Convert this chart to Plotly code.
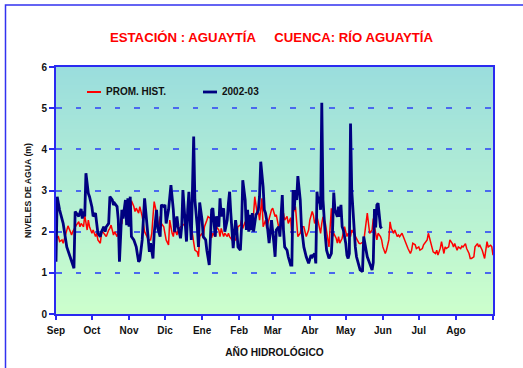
import plotly.graph_objects as go

# ---------------- data ----------------
MESES = ["Sep", "Oct", "Nov", "Dic", "Ene", "Feb", "Mar", "Abr", "May", "Jun", "Jul", "Ago"]
DIAS_MES = [30, 31, 30, 31, 31, 28, 31, 30, 31, 30, 31, 31]

# Historical mean water level (day of hydrological year, metres)
PROM_DIA = [0, 2, 3, 5, 6, 7, 9, 10, 12, 13, 14, 16, 17, 19, 20, 21, 23, 24, 26, 27, 28, 30, 31, 33, 34,
            35, 37, 38, 39, 41, 42, 44, 45, 46, 48, 49, 51, 52, 53, 55, 56, 58, 59, 60, 62, 63, 65, 66, 67,
            69, 70, 72, 73, 74, 76, 77, 79, 80, 81, 82, 84, 85, 86, 87, 88, 90, 91, 92, 94, 95, 97, 98, 99,
            101, 102, 104, 105, 106, 108, 109, 111, 112, 113, 115, 116, 118, 119, 120, 122, 123, 124, 126,
            127, 129, 130, 131, 133, 134, 136, 137, 138, 140, 141, 143, 144, 145, 147, 148, 150, 151, 152,
            154, 155, 156, 158, 159, 161, 162, 163, 165, 166, 168, 169, 170, 172, 173, 175, 176, 177, 179,
            180, 181, 183, 184, 186, 187, 189, 190, 191, 193, 194, 196, 197, 198, 200, 201, 202, 204, 205,
            207, 208, 209, 211, 212, 214, 215, 216, 218, 219, 221, 222, 223, 225, 226, 228, 229, 230, 231,
            232, 234, 235, 236, 237, 239, 240, 241, 243, 244, 246, 247, 248, 250, 251, 253, 254, 255, 257,
            258, 260, 261, 262, 264, 265, 267, 268, 269, 271, 272, 273, 275, 276, 278, 279, 280, 282, 283,
            285, 286, 287, 289, 290, 292, 293, 294, 296, 297, 298, 300, 301, 303, 304, 306, 307, 308, 310,
            311, 313, 314, 315, 317, 318, 319, 321, 322, 324, 325, 326, 328, 329, 331, 332, 333, 335, 336,
            338, 339, 340, 342, 343, 345, 346, 347, 349, 350, 352, 353, 354, 356, 357, 358, 360, 361, 363,
            364, 365]
PROM_NIVEL = [1.84, 1.88, 1.76, 1.80, 1.72, 1.84, 2.08, 2.14, 2.00, 1.92, 2.00, 2.12, 2.16, 2.24, 2.12,
              2.20, 2.12, 2.40, 2.04, 2.28, 2.12, 1.96, 2.04, 1.88, 1.96, 1.80, 1.72, 1.96, 2.00, 1.92,
              1.88, 2.04, 2.08, 2.16, 1.92, 2.00, 1.88, 2.00, 2.12, 2.20, 2.53, 2.40, 2.32, 2.45, 2.30,
              2.75, 2.61, 2.49, 2.57, 2.45, 2.61, 2.37, 2.20, 2.00, 1.88, 1.80, 1.80, 1.96, 2.37, 2.73,
              2.45, 2.20, 2.12, 2.37, 2.20, 2.12, 1.96, 1.80, 1.68, 2.28, 1.96, 1.88, 2.08, 1.92, 2.04,
              2.12, 2.12, 2.16, 2.20, 2.40, 2.37, 2.28, 2.12, 1.80, 1.55, 1.51, 1.39, 1.88, 1.96, 1.84,
              2.12, 2.28, 2.37, 2.32, 1.85, 1.96, 1.88, 2.12, 2.04, 1.88, 2.08, 1.88, 1.96, 1.88, 1.96,
              1.88, 1.80, 1.76, 1.80, 1.92, 2.12, 2.16, 2.28, 2.08, 2.24, 2.12, 2.12, 2.37, 2.20, 2.41,
              2.85, 2.45, 2.49, 2.28, 2.81, 2.12, 2.28, 2.08, 2.20, 2.45, 2.53, 2.57, 2.37, 2.41, 2.08,
              1.96, 2.37, 2.45, 2.28, 2.37, 2.20, 2.34, 1.88, 2.45, 2.61, 2.20, 1.88, 1.96, 2.12, 2.12,
              1.96, 1.88, 2.04, 2.28, 2.49, 2.40, 2.20, 2.36, 2.24, 1.96, 2.20, 2.36, 2.20, 1.96, 1.63,
              2.12, 2.57, 1.88, 1.96, 1.84, 1.72, 1.88, 1.72, 1.84, 1.96, 2.12, 1.88, 1.96, 1.88, 2.04,
              2.00, 1.88, 1.80, 1.72, 1.71, 1.72, 1.76, 2.04, 2.45, 2.20, 1.96, 2.04, 2.32, 1.96, 1.80,
              1.96, 1.88, 1.80, 1.63, 1.47, 1.55, 1.80, 2.24, 2.08, 1.96, 2.04, 1.88, 1.92, 1.88, 1.96,
              1.88, 1.72, 1.68, 1.59, 1.47, 1.55, 1.72, 1.68, 1.59, 1.63, 1.55, 1.59, 1.68, 1.72, 1.80,
              1.96, 1.72, 1.63, 1.51, 1.47, 1.55, 1.43, 1.60, 1.76, 1.47, 1.63, 1.59, 1.63, 1.80, 1.71,
              1.63, 1.71, 1.55, 1.63, 1.59, 1.65, 1.63, 1.71, 1.59, 1.47, 1.35, 1.35, 1.39, 1.63, 1.71,
              1.63, 1.67, 1.55, 1.47, 1.35, 1.76, 1.63, 1.67, 1.63, 1.43]

# Water level of the 2002-03 hydrological year (metres)
AGUA_DIA = [0, 1, 3, 6, 9, 12, 15, 16, 19, 21, 22, 23, 24, 25, 27, 28, 30, 31, 33, 34, 35, 37, 38, 40, 41,
            42, 44, 45, 47, 48, 49, 51, 52, 53, 54, 55, 56, 58, 59, 60, 61, 62, 63, 65, 67, 69, 70, 72, 74,
            75, 76, 78, 79, 81, 82, 84, 85, 87, 88, 90, 91, 92, 94, 95, 96, 98, 99, 101, 102, 104, 105, 106,
            107, 109, 110, 111, 112, 113, 115, 116, 118, 119, 120, 122, 123, 125, 126, 128, 130, 131, 133,
            134, 136, 137, 138, 140, 141, 143, 144, 145, 146, 148, 149, 150, 151, 152, 154, 155, 156, 158,
            159, 160, 161, 162, 163, 164, 165, 167, 168, 169, 170, 171, 173, 174, 175, 176, 178, 179, 180,
            182, 183, 184, 186, 187, 189, 190, 191, 193, 194, 196, 197, 198, 199, 200, 201, 202, 204, 205,
            207, 209, 211, 213, 214, 216, 217, 218, 219, 220, 221, 222, 223, 225, 226, 228, 230, 231, 232,
            233, 235, 236, 237, 238, 239, 240, 242, 243, 244, 245, 246, 247, 249, 250, 251, 253, 254, 256,
            257, 259, 260, 262, 264, 265, 266, 267, 268, 269, 270, 271, 272]
AGUA_NIVEL = [1.27, 2.85, 2.53, 2.20, 1.63, 1.39, 1.11, 2.49, 2.37, 2.55, 2.32, 2.49, 2.37, 3.42, 2.93,
              2.85, 2.60, 2.37, 2.45, 2.20, 1.96, 1.88, 2.00, 2.12, 2.00, 2.12, 2.20, 2.85, 2.77, 2.65,
              2.69, 2.61, 2.30, 1.27, 1.96, 2.53, 2.32, 2.77, 2.16, 2.81, 2.12, 2.85, 1.88, 1.80, 1.63,
              1.27, 1.31, 1.80, 2.81, 2.45, 2.04, 1.51, 1.72, 1.35, 1.96, 2.53, 2.08, 1.88, 2.65, 2.61,
              2.65, 2.20, 2.53, 2.77, 3.13, 2.53, 2.00, 2.37, 2.12, 1.84, 2.12, 3.01, 2.61, 1.76, 2.53,
              2.97, 2.28, 1.80, 4.31, 2.77, 2.12, 1.63, 2.71, 2.28, 1.88, 1.80, 1.55, 1.19, 2.53, 2.57,
              1.88, 2.37, 2.12, 2.81, 2.37, 2.57, 2.00, 2.28, 2.69, 2.97, 2.45, 1.60, 1.96, 2.28, 2.04,
              1.63, 1.55, 2.12, 3.25, 2.77, 2.04, 2.53, 2.00, 2.41, 2.04, 2.45, 2.00, 2.41, 2.45, 2.53,
              2.85, 3.70, 3.09, 2.53, 2.45, 2.28, 1.72, 1.96, 2.28, 1.72, 1.39, 2.04, 2.12, 1.88, 2.89,
              2.04, 1.63, 1.55, 1.39, 1.19, 1.19, 3.01, 2.53, 3.01, 2.77, 3.35, 2.77, 2.12, 1.63, 1.39,
              1.23, 1.43, 1.39, 1.47, 1.23, 2.97, 2.69, 2.85, 2.53, 5.13, 2.77, 1.88, 1.55, 1.35, 1.47,
              2.04, 2.95, 2.53, 2.36, 2.61, 2.36, 2.65, 2.12, 2.04, 1.72, 1.43, 1.35, 1.47, 4.63, 3.01,
              2.04, 1.63, 1.39, 1.15, 1.07, 1.03, 1.88, 1.55, 1.39, 1.23, 1.07, 1.25, 2.55, 2.10, 2.65,
              2.69, 2.28, 2.12, 2.08]

# ---------------- layout constants ----------------
W, H = 523, 368
L, R, T, B = 56, 30, 67, 54
PW, PH = W - L - R, H - T - B
FONT = "Liberation Sans, Arial, sans-serif"
AXIS_BLUE = "#2a2af0"
GRID_BLUE = "#4a68ee"
Y_MAX = 6


def px_x(px):
    return (px - L) / PW


def px_y(py):
    return (H - B - py) / PH


# month tick positions (start of each month, plus end of year)
tick_pos = [0]
for d in DIAS_MES:
    tick_pos.append(tick_pos[-1] + d)
tick_txt = MESES + [""]

fig = go.Figure()

fig.add_trace(go.Scatter(
    x=PROM_DIA, y=PROM_NIVEL, mode="lines", name="PROM. HIST.",
    line=dict(color="#ff0000", width=1.5), showlegend=False,
))
fig.add_trace(go.Scatter(
    x=AGUA_DIA, y=AGUA_NIVEL, mode="lines", name="2002-03",
    line=dict(color="#000080", width=2.8), showlegend=False,
))

shapes = []
# vertical gradient background (light green at the bottom, teal at the top)
c_bot = (204, 255, 204)
c_top = (154, 221, 221)
n = 124
for i in range(n):
    t = (i + 0.5) / n
    col = tuple(round(c_bot[k] + (c_top[k] - c_bot[k]) * t) for k in range(3))
    y0 = Y_MAX * i / n
    y1 = min(Y_MAX, Y_MAX * (i + 1.6) / n)
    shapes.append(dict(type="rect", xref="paper", yref="y", x0=0, x1=1, y0=y0, y1=y1,
                       fillcolor="rgb(%d,%d,%d)" % col, line=dict(width=0), layer="below"))

# outer chart frame
shapes.append(dict(type="rect", xref="paper", yref="paper",
                   x0=px_x(5.5), x1=px_x(560), y0=px_y(5), y1=px_y(420),
                   line=dict(color="#3232f0", width=1.5), fillcolor="rgba(0,0,0,0)", layer="above"))

# legend keys
leg_y = px_y(92)
shapes.append(dict(type="line", xref="paper", yref="paper", x0=px_x(87), x1=px_x(101),
                   y0=leg_y, y1=leg_y, line=dict(color="#ff0000", width=2)))
shapes.append(dict(type="line", xref="paper", yref="paper", x0=px_x(203), x1=px_x(217),
                   y0=leg_y, y1=leg_y, line=dict(color="#000080", width=2.8)))

annotations = [
    dict(text="<b>PROM. HIST.</b>", xref="paper", yref="paper", x=px_x(103.5), y=leg_y,
         xanchor="left", yanchor="middle", showarrow=False,
         font=dict(family=FONT, size=10, color="#111111")),
    dict(text="<b>2002-03</b>", xref="paper", yref="paper", x=px_x(219.5), y=leg_y,
         xanchor="left", yanchor="middle", showarrow=False,
         font=dict(family=FONT, size=10, color="#111111")),
]

fig.update_layout(
    width=W, height=H,
    margin=dict(l=L, r=R, t=T, b=B, pad=0),
    paper_bgcolor="white",
    plot_bgcolor="rgba(0,0,0,0)",
    showlegend=False,
    title=dict(
        text="<b>ESTACIÓN : AGUAYTÍA\u00a0\u00a0\u00a0\u00a0\u00a0CUENCA: RÍO AGUAYTÍA</b>",
        x=271.5 / W, xref="container", xanchor="center",
        y=1 - 37 / H, yref="container", yanchor="middle",
        font=dict(family=FONT, size=13.2, color="#ff0000"),
    ),
    shapes=shapes,
    annotations=annotations,
)

fig.update_xaxes(
    range=[0, tick_pos[-1]],
    tickmode="array", tickvals=tick_pos, ticktext=tick_txt,
    ticks="outside", ticklen=4, tickwidth=1.5, tickcolor=AXIS_BLUE,
    ticklabelstandoff=2,
    showline=True, linecolor=AXIS_BLUE, linewidth=2, mirror=True,
    showgrid=False, zeroline=False,
    tickfont=dict(family=FONT, size=10, color="#111111", weight="bold"),
    title=dict(text="<b>AÑO HIDROLÓGICO</b>", standoff=14,
               font=dict(family=FONT, size=10.2, color="#111111")),
)
fig.update_yaxes(
    range=[0, Y_MAX], tickmode="linear", tick0=0, dtick=1,
    ticks="outside", ticklen=5, tickwidth=1.5, tickcolor=AXIS_BLUE,
    showline=True, linecolor=AXIS_BLUE, linewidth=2, mirror=True,
    showgrid=True, gridcolor=GRID_BLUE, gridwidth=1.8, griddash="5.5px,14px",
    zeroline=False,
    tickfont=dict(family=FONT, size=10, color="#111111", weight="bold"),
    title=dict(text="<b>NIVELES DE AGUA (m)</b>", standoff=8,
               font=dict(family=FONT, size=8.7, color="#111111")),
)

fig.write_html("out.html")
